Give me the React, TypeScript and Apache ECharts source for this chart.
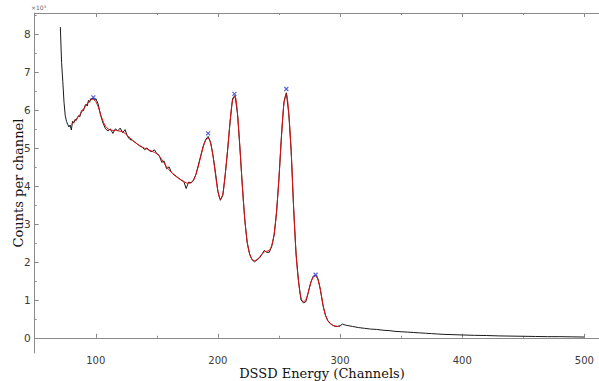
import React, { useEffect, useRef } from "react";
import * as echarts from "echarts";

// Measured spectrum (counts per channel, in units of 10^3)
const channels = [
  71, 72, 73, 74, 75, 76, 77, 78, 79, 80, 81, 82, 83, 84, 85, 86, 87, 88, 89, 90,
  91, 92, 93, 94, 95, 96, 97, 98, 99, 100, 102, 104, 106, 108, 110, 112, 114, 116, 118, 120,
  122, 124, 126, 128, 130, 132, 134, 136, 138, 140, 142, 144, 146, 148, 150, 152, 154, 156, 158, 160,
  162, 164, 166, 168, 170, 172, 174, 176, 178, 180, 182, 184, 186, 188, 190, 192, 194, 196, 198, 200,
  202, 204, 206, 208, 210, 212, 214, 216, 218, 220, 222, 224, 226, 228, 230, 232, 234, 236, 238, 240,
  242, 244, 246, 248, 250, 252, 254, 256, 258, 260, 262, 264, 266, 268, 270, 272, 274, 276, 278, 280,
  282, 284, 286, 288, 290, 292, 294, 296, 298, 300, 302, 305, 310, 315, 320, 325, 330, 335, 340, 345,
  350, 355, 360, 365, 370, 375, 380, 385, 390, 395, 400, 410, 420, 430, 440, 450, 460, 470, 480, 490, 500,
];
const counts = [
  8.18, 7.25, 6.75, 6.2, 5.85, 5.7, 5.62, 5.55, 5.6, 5.47, 5.7, 5.65, 5.75, 5.72, 5.8, 5.85, 5.82, 5.95, 6.0, 5.98,
  6.1, 6.15, 6.1, 6.25, 6.2, 6.3, 6.28, 6.32, 6.25, 6.3, 6.15, 5.85, 5.65, 5.5, 5.45, 5.5, 5.38, 5.5, 5.45, 5.52,
  5.4, 5.48, 5.3, 5.22, 5.2, 5.15, 5.1, 5.05, 5.02, 4.95, 5.0, 4.92, 4.9, 4.95, 4.85, 4.8, 4.62, 4.65, 4.45, 4.5,
  4.35, 4.3, 4.25, 4.2, 4.15, 4.12, 3.93, 4.1, 4.08, 4.15, 4.3, 4.55, 4.8, 5.05, 5.22, 5.3, 5.15, 4.8, 4.35, 3.85,
  3.62, 3.75, 4.3, 4.95, 5.7, 6.3, 6.38, 5.9, 5.0, 4.0, 3.1, 2.5, 2.2, 2.05, 2.0, 2.05, 2.1, 2.2, 2.3, 2.25,
  2.25, 2.4, 2.7, 3.3, 4.2, 5.3, 6.2, 6.45, 5.9, 4.9, 3.4, 2.2, 1.5, 1.0, 0.92, 0.95, 1.2, 1.45, 1.62, 1.65,
  1.55, 1.25, 0.85, 0.6, 0.45, 0.38, 0.33, 0.3, 0.3, 0.32, 0.36, 0.33, 0.3, 0.27, 0.25, 0.23, 0.22, 0.2, 0.19, 0.17,
  0.16, 0.15, 0.14, 0.13, 0.12, 0.11, 0.1, 0.09, 0.085, 0.08, 0.075, 0.065, 0.06, 0.05, 0.045, 0.04, 0.035, 0.03, 0.03, 0.025, 0.02,
];

// Fit curve
const fitChannels = [
  80, 82, 84, 86, 88, 90, 92, 94, 96, 98, 100, 102, 104, 106, 108, 110, 112, 114, 116, 118,
  120, 122, 124, 126, 128, 130, 132, 134, 136, 138, 140, 142, 144, 146, 148, 150, 152, 154, 156, 158,
  160, 162, 164, 166, 168, 170, 172, 174, 176, 178, 180, 182, 184, 186, 188, 190, 192, 194, 196, 198,
  200, 202, 204, 206, 208, 210, 212, 214, 216, 218, 220, 222, 224, 226, 228, 230, 232, 234, 236, 238,
  240, 242, 244, 246, 248, 250, 252, 254, 256, 258, 260, 262, 264, 266, 268, 270, 272, 274, 276, 278,
  280, 282, 284, 286, 288, 290, 292, 294, 296, 298, 300,
];
const fitCounts = [
  5.62, 5.68, 5.75, 5.83, 5.92, 6.02, 6.12, 6.2, 6.27, 6.28, 6.22, 6.08, 5.88, 5.7, 5.57, 5.5, 5.47, 5.46, 5.46, 5.45,
  5.44, 5.42, 5.38, 5.32, 5.26, 5.2, 5.15, 5.1, 5.06, 5.02, 4.99, 4.97, 4.94, 4.91, 4.88, 4.84, 4.78, 4.7, 4.6, 4.5,
  4.42, 4.35, 4.29, 4.24, 4.19, 4.15, 4.11, 4.08, 4.07, 4.08, 4.15, 4.3, 4.52, 4.78, 5.03, 5.2, 5.26, 5.12, 4.78, 4.3,
  3.86, 3.65, 3.78, 4.3, 4.98, 5.7, 6.25, 6.35, 5.92, 5.02, 4.0, 3.12, 2.52, 2.2, 2.06, 2.03, 2.06, 2.12, 2.2, 2.26,
  2.28, 2.3, 2.42, 2.72, 3.32, 4.22, 5.28, 6.15, 6.42, 5.92, 4.9, 3.42, 2.2, 1.48, 1.05, 0.95, 1.0, 1.2, 1.45, 1.6,
  1.63, 1.52, 1.25, 0.88, 0.6, 0.45, 0.37, 0.33, 0.31, 0.3, 0.3,
];

// Peak markers
const peakChannels = [98, 192, 213.5, 256, 280];
const peakCounts = [6.33, 5.38, 6.42, 6.55, 1.66];

const xMajor = [100, 200, 300, 400, 500];
const xMinor = [150, 250, 350, 450];
const yMajor = [0, 1, 2, 3, 4, 5, 6, 7, 8];
const yMinor = [0.5, 1.5, 2.5, 3.5, 4.5, 5.5, 6.5, 7.5, 8.5];

const AXIS = "#8a8a8a";

export default function App() {
  const ref = useRef<HTMLDivElement>(null);
  useEffect(() => {
    if (!ref.current) return;
    const chart = echarts.init(ref.current, null, { renderer: "svg" });
    const xBase = { type: "value", min: 50, max: 512, splitLine: { show: false } };
    const yBase = { type: "value", min: -0.4, max: 8.55, splitLine: { show: false } };
    chart.setOption({
      animation: false,
      backgroundColor: "#ffffff",
      grid: { left: 34.7, top: 13, right: 0, bottom: 28, containLabel: false },
      xAxis: [
        {
          ...xBase,
          position: "bottom",
          axisLine: { show: true, lineStyle: { color: AXIS, width: 1 } },
          axisTick: { show: true, inside: true, length: 4, customValues: xMajor, lineStyle: { color: AXIS } },
          axisLabel: { show: true, customValues: xMajor, color: "#3a3a3a", fontSize: 10, lineHeight: 11, fontFamily: "DejaVu Sans", margin: 2 },
        },
        {
          ...xBase,
          position: "bottom",
          axisLine: { show: false },
          axisTick: { show: true, inside: true, length: 2, customValues: xMinor, lineStyle: { color: AXIS } },
          axisLabel: { show: false },
        },
        {
          ...xBase,
          position: "top",
          axisLine: { show: true, lineStyle: { color: AXIS, width: 1 } },
          axisTick: { show: true, inside: true, length: 4, customValues: xMajor, lineStyle: { color: AXIS } },
          axisLabel: { show: false },
        },
        {
          ...xBase,
          position: "top",
          axisLine: { show: false },
          axisTick: { show: true, inside: true, length: 2, customValues: xMinor, lineStyle: { color: AXIS } },
          axisLabel: { show: false },
        },
      ],
      yAxis: [
        {
          ...yBase,
          position: "left",
          axisLine: { show: true, lineStyle: { color: AXIS, width: 1 } },
          axisTick: { show: true, inside: true, length: 4, customValues: yMajor, lineStyle: { color: AXIS } },
          axisLabel: { show: true, customValues: yMajor, color: "#3a3a3a", fontSize: 10.5, fontFamily: "DejaVu Sans", margin: 4 },
        },
        {
          ...yBase,
          position: "left",
          axisLine: { show: false },
          axisTick: { show: true, inside: true, length: 2, customValues: yMinor, lineStyle: { color: AXIS } },
          axisLabel: { show: false },
        },
      ],
      series: [
        {
          type: "line",
          name: "Data",
          xAxisIndex: 0,
          yAxisIndex: 0,
          data: channels.map((c, i) => [c, counts[i]]),
          showSymbol: false,
          lineStyle: { color: "#1a1a1a", width: 1 },
          z: 2,
        },
        {
          type: "line",
          name: "Fit",
          xAxisIndex: 0,
          yAxisIndex: 0,
          data: fitChannels.map((c, i) => [c, fitCounts[i]]),
          smooth: 0.3,
          showSymbol: false,
          lineStyle: { color: "#e01010", width: 1 },
          z: 3,
        },
        {
          type: "scatter",
          name: "Peaks",
          xAxisIndex: 0,
          yAxisIndex: 0,
          data: peakChannels.map((c, i) => [c, peakCounts[i]]),
          symbol: "path://M0,0L10,10M10,0L0,10",
          symbolSize: 4,
          itemStyle: { color: "#2b3fd6", borderColor: "#2b3fd6", borderWidth: 1.2 },
          z: 4,
        },
      ],
      graphic: [
        {
          type: "text",
          left: 31,
          top: 4,
          style: { text: "×10³", fontSize: 6, fill: "#666", fontFamily: "DejaVu Sans" },
        },
        {
          type: "text",
          x: 18,
          y: 183,
          rotation: Math.PI / 2,
          style: {
            text: "Counts per channel",
            fontSize: 13,
            fontFamily: "DejaVu Serif",
            fill: "#111",
            textAlign: "center",
            textVerticalAlign: "middle",
          },
        },
        {
          type: "text",
          x: 322,
          y: 373,
          style: {
            text: "DSSD Energy (Channels)",
            fontSize: 13,
            lineHeight: 14,
            fontFamily: "DejaVu Serif",
            fill: "#111",
            textAlign: "center",
            textVerticalAlign: "middle",
          },
        },
      ],
    });
    return () => chart.dispose();
  }, []);
  return (
    <div
      ref={ref}
      style={{ position: "fixed", left: 0, top: 0, width: 599, height: 381, background: "#fff" }}
    />
  );
}
